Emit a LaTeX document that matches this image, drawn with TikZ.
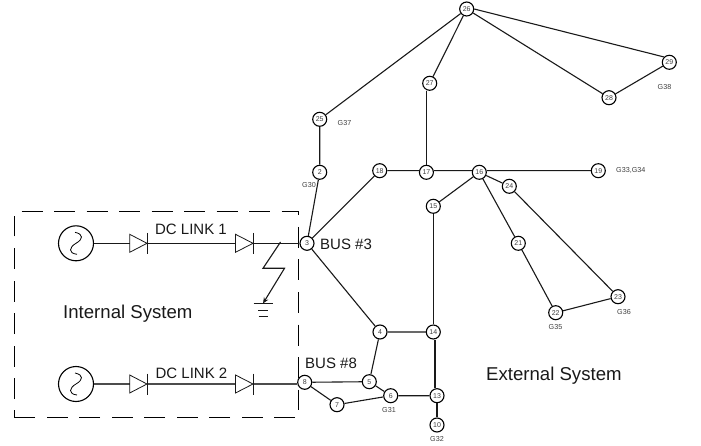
\documentclass[tikz,border=0pt]{standalone}
\usepackage{fontspec}
\setmainfont{Liberation Sans}
\usetikzlibrary{arrows.meta,calc}
\tikzset{
 x=1pt,y=-1pt,
 bus/.style={circle,draw=black,line width=1.1pt,fill=white,minimum size=14pt,inner sep=0pt,font=\fontsize{7}{8}\selectfont,text=black!75},
 gen/.style={font=\fontsize{7.2}{8}\selectfont,text=black!75,inner sep=0pt},
 lbl/.style={font=\fontsize{15}{17}\selectfont,text=black!90,inner sep=0pt},
 big/.style={font=\fontsize{18.6}{21}\selectfont,text=black!90,inner sep=0pt},
 ln/.style={line width=1.1pt,draw=black!90},
 src/.style={circle,draw=black,line width=1.1pt,minimum size=35pt,inner sep=0pt},
 diode/.style={draw=black!90,line width=0.8pt},
 frame/.style={draw=black,line width=1pt,dash pattern=on 21pt off 11.5pt},
 framecorner/.style={draw=black,line width=1pt},
}
\newcommand{\waveat}[1]{\draw[line width=0.8pt] ($(#1)+(-1,-11)$) .. controls ($(#1)+(8,-9)$) and ($(#1)+(7,-4)$) .. (#1) .. controls ($(#1)+(-7,4)$) and ($(#1)+(-8,10)$) .. ($(#1)+(1,11)$);}
\begin{document}
\begin{tikzpicture}
\useasboundingbox (0,0) rectangle (701,446);
% frame
\draw[frame] (21.7,211.5) -- (298.7,211.5) -- (298.7,410);
\draw[frame] (295,417) -- (47,417);
\draw[framecorner] (35,417) -- (14.7,417) -- (14.7,410);
\draw[frame] (14.7,399) -- (14.7,216);
% buses
\node[bus] (b26) at (466.7,9) {26};
\node[bus] (b29) at (669.3,62.3) {29};
\node[bus] (b28) at (609,97.7) {28};
\node[bus] (b27) at (429.7,83.3) {27};
\node[bus] (b25) at (319.7,119.3) {25};
\node[bus] (b2) at (319.7,172.3) {2};
\node[bus] (b18) at (379.7,170.7) {18};
\node[bus] (b17) at (426.4,172.3) {17};
\node[bus] (b16) at (479.3,172.3) {16};
\node[bus] (b19) at (598.3,170.7) {19};
\node[bus] (b24) at (509.3,186.3) {24};
\node[bus] (b15) at (433.3,206.3) {15};
\node[bus] (b3) at (307,243.3) {3};
\node[bus] (b8) at (304.7,382.3) {8};
\node[bus] (b7) at (337,404.7) {7};
\node[bus] (b21) at (518.3,243.3) {21};
\node[bus] (b22) at (555.7,312.7) {22};
\node[bus] (b23) at (618,296.7) {23};
\node[bus] (b4) at (380,332) {4};
\node[bus] (b14) at (433.3,332) {14};
\node[bus] (b5) at (369.3,381.7) {5};
\node[bus] (b6) at (390.7,395.7) {6};
\node[bus] (b13) at (437,395.7) {13};
\node[bus] (b10) at (437,425) {10};
% connectors
\coordinate (m) at ($(b14.south)!.45!(b13.north)$);
\draw[ln] (b26.east)--(b29.north west) (b29)--(b28) (b28)--(b26) (b26)--(b27) (b26)--(b25) (b25)--(b2) (b2)--(b3);
\draw[ln] (b17.north |- b27.south) -- (b17.north);
\draw[ln] (b3)--(b18) (b18.east)--(b17.west |- b18) (b17.east |- b18)--(b16.west |- b18) (b16.east |- b18)--(b19.west) (b16)--(b24) (b16)--(b15) (b16)--(b21) (b24)--(b23) (b21)--(b22) (b22)--(b23);
\draw[ln] (b15.south) -- (b14.north);
\draw[ln] (b3)--(b4) (b4)--(b14) (b4)--(b5) (b5)--(b6) (b5)--(b8) (b8)--(b7) (b7)--(b6) (b6)--(b13);
\draw[ln] (m |- b14.south) -- (m |- b13.north);
\draw[ln] (b13)--(b10);
% sources
\node[src] (s1) at (76,243.3) {};
\node[src] (s2) at (76,384) {};
\coordinate (w1) at (76,243.3);
\coordinate (w2) at (76,384);
\waveat{w1}
\waveat{w2}
% diodes
\coordinate (d1a) at (129.7,243.3); \coordinate (d1b) at (147,243.3);
\coordinate (d2a) at (235.5,243.3); \coordinate (d2b) at (253,243.3);
\coordinate (d3a) at (129.7,384); \coordinate (d3b) at (147,384);
\coordinate (d4a) at (235.5,384); \coordinate (d4b) at (253,384);
\draw[ln] (s1)--(d1a) (d1b)--(d2a) (d2b)--(b3);
\draw[ln,draw=black!70] (s2)--(d3a) (d3b)--(d4a) (d4b)--(b8.west |- d4b);
\foreach \a/\b in {d1a/d1b,d2a/d2b,d3a/d3b,d4a/d4b}{
 \draw[diode] ($(\a)+(0,-9)$) -- (\b) -- ($(\a)+(0,9)$) -- cycle;
 \draw[diode] ($(\b)+(0,-10.5)$) -- ($(\b)+(0,10.5)$);
}
% fault
\coordinate (f0) at (280.5,242);
\coordinate (f1) at (263,268.3);
\coordinate (f2) at (284.5,268.3);
\coordinate (f3) at (263,303.5);
\draw[ln,-{Stealth[length=6pt,width=5pt]}] (f0)--(f1)--(f2)--(f3);
\draw[diode] (253.5,303.5)--(272.5,303.5) (258,310)--(268,310) (258.5,316.5)--(267.5,316.5);
% labels
\node[lbl] at (191,229.5) {DC LINK 1};
\node[lbl] at (191.5,373) {DC LINK 2};
\node[lbl,anchor=west] at (320,244) {BUS \#3};
\node[lbl,anchor=west] at (305,363.5) {BUS \#8};
\node[big,anchor=west] at (63,313.5) {Internal System};
\node[big,anchor=west] at (486,375.5) {External System};
\node[gen] at (664.5,87) {G38};
\node[gen] at (344.5,123) {G37};
\node[gen] at (309,185.5) {G30};
\node[gen,anchor=west] at (616,170) {G33,G34};
\node[gen] at (555.5,327) {G35};
\node[gen] at (624,312) {G36};
\node[gen] at (389,410) {G31};
\node[gen] at (437,439) {G32};
\end{tikzpicture}
\end{document}
